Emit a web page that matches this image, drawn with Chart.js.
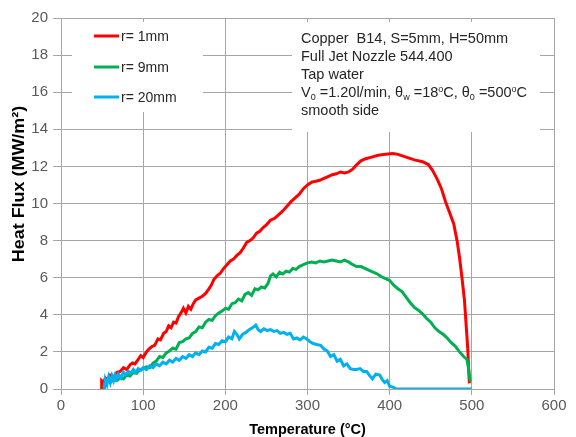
<!DOCTYPE html>
<html>
<head>
<meta charset="utf-8">
<script src="https://cdn.jsdelivr.net/npm/chart.js@4.4.1/dist/chart.umd.min.js"></script>
<style>
  html, body { margin: 0; padding: 0; background: #fff; }
</style>
</head>
<body>
<canvas id="heat-flux-chart" width="576" height="437"></canvas>
<script>
// r = 1mm
const redTemp = [49, 49.5, 52, 54, 57, 60, 64, 68, 72, 76, 80, 84, 87, 90, 94, 97, 100, 104, 107, 111, 114, 118, 121, 125, 128, 131, 134, 137, 140, 143, 146, 149, 152, 155, 158, 161, 164, 168, 172, 176, 180, 183, 186, 190, 194, 198, 202, 206, 210, 214, 218, 222, 226, 230, 234, 238, 242, 246, 250, 255, 260, 265, 270, 275, 280, 285, 290, 295, 300, 305, 310, 315, 320, 325, 330, 335, 340, 345, 350, 355, 360, 365, 370, 378, 386, 395, 404, 410, 420, 430, 440, 447, 452, 458, 463, 468, 473, 478, 482, 485, 488, 491, 493, 495, 496, 497];
const redFlux = [0.0, 0.45, 0.35, 0.6, 0.5, 0.75, 0.65, 0.9, 0.95, 1.15, 1.05, 1.3, 1.4, 1.35, 1.6, 1.8, 1.7, 2.0, 2.15, 2.3, 2.35, 2.7, 2.65, 3.0, 3.1, 3.4, 3.3, 3.6, 3.55, 3.9, 4.1, 4.35, 4.1, 4.45, 4.3, 4.6, 4.8, 4.9, 5.0, 5.15, 5.4, 5.6, 5.9, 6.1, 6.25, 6.5, 6.7, 6.9, 7.0, 7.2, 7.35, 7.6, 7.9, 8.0, 8.15, 8.4, 8.5, 8.7, 8.85, 9.1, 9.2, 9.4, 9.6, 9.85, 10.1, 10.3, 10.5, 10.8, 11.0, 11.15, 11.2, 11.25, 11.35, 11.45, 11.55, 11.6, 11.7, 11.65, 11.7, 11.85, 12.1, 12.3, 12.4, 12.5, 12.6, 12.65, 12.7, 12.65, 12.5, 12.35, 12.25, 12.1, 11.8, 11.3, 10.8, 10.1, 9.5, 8.9, 8.0, 7.1, 6.0, 4.8, 3.5, 2.2, 1.2, 0.3];

// r = 9mm
const greenTemp = [52, 53, 56, 60, 64, 68, 72, 76, 80, 84, 88, 92, 96, 100, 104, 108, 112, 116, 120, 124, 128, 132, 136, 140, 144, 148, 152, 156, 160, 164, 168, 172, 176, 180, 184, 188, 192, 196, 200, 204, 208, 212, 216, 220, 224, 228, 232, 236, 240, 244, 248, 252, 255, 258, 262, 266, 270, 274, 278, 282, 286, 290, 295, 300, 305, 310, 315, 320, 325, 330, 335, 340, 345, 350, 355, 360, 365, 370, 375, 380, 385, 390, 395, 400, 405, 410, 415, 420, 425, 430, 435, 440, 445, 450, 455, 460, 465, 470, 475, 480, 485, 490, 494, 496, 498];
const greenFlux = [0.0, 0.3, 0.45, 0.35, 0.5, 0.45, 0.6, 0.55, 0.75, 0.7, 0.9, 0.85, 1.05, 1.1, 1.2, 1.15, 1.4, 1.5, 1.75, 1.7, 1.95, 2.05, 2.2, 2.15, 2.5, 2.55, 2.7, 2.75, 3.0, 3.1, 3.35, 3.3, 3.6, 3.75, 3.7, 3.95, 4.1, 4.2, 4.35, 4.3, 4.6, 4.65, 4.85, 4.75, 5.1, 5.2, 5.05, 5.4, 5.35, 5.5, 5.45, 5.7, 6.1, 6.2, 6.05, 6.3, 6.2, 6.35, 6.3, 6.5, 6.45, 6.6, 6.7, 6.8, 6.85, 6.8, 6.9, 6.85, 6.9, 6.95, 6.9, 6.85, 6.95, 6.85, 6.7, 6.6, 6.6, 6.5, 6.4, 6.3, 6.2, 6.05, 5.95, 5.85, 5.6, 5.4, 5.25, 4.95, 4.65, 4.4, 4.25, 4.05, 3.8, 3.6, 3.3, 3.1, 2.95, 2.75, 2.5, 2.3, 2.0, 1.75, 1.6, 1.1, 0.4];

// r = 20mm
const blueTemp = [53, 54, 56, 58, 60, 62, 64, 66, 68, 70, 73, 76, 79, 82, 85, 88, 91, 94, 97, 100, 104, 108, 112, 116, 120, 124, 128, 132, 136, 140, 144, 148, 152, 156, 160, 164, 168, 172, 176, 180, 184, 188, 192, 196, 200, 204, 208, 211, 214, 217, 221, 225, 229, 233, 237, 240, 243, 247, 251, 255, 259, 263, 267, 271, 275, 279, 283, 287, 291, 295, 299, 303, 307, 311, 316, 320, 324, 328, 332, 336, 340, 344, 348, 352, 356, 360, 364, 368, 372, 376, 379, 383, 388, 391, 394, 397, 400, 404, 408, 500];
const blueFlux = [0.0, 0.5, 0.25, 0.65, 0.35, 0.7, 0.45, 0.75, 0.55, 0.8, 0.6, 0.9, 0.75, 0.95, 0.85, 1.05, 0.9, 1.1, 1.0, 1.15, 1.05, 1.25, 1.15, 1.35, 1.25, 1.45, 1.35, 1.55, 1.45, 1.65, 1.55, 1.75, 1.65, 1.85, 1.75, 1.95, 1.85, 2.05, 2.0, 2.25, 2.2, 2.45, 2.4, 2.6, 2.55, 2.8, 2.7, 3.1, 2.95, 2.7, 2.95, 3.05, 3.2, 3.3, 3.45, 3.2, 3.1, 3.25, 3.15, 3.2, 3.1, 3.15, 3.0, 3.05, 2.95, 3.0, 2.7, 2.75, 2.65, 2.8, 2.7, 2.55, 2.45, 2.4, 2.35, 2.15, 2.05, 1.75, 1.85, 1.5, 1.6, 1.25, 1.35, 1.1, 1.05, 1.05, 1.1, 0.95, 0.95, 0.7, 0.55, 0.8, 0.75, 0.5, 0.35, 0.45, 0.15, 0.1, 0.0, 0.0];

const seriesLabels = ['r= 1mm', 'r= 9mm', 'r= 20mm'];
const seriesColors = ['#ff0000', '#00b050', '#00b0f0'];

const noteLines = [
  [{ t: 'Copper  B14, S=5mm, H=50mm' }],
  [{ t: 'Full Jet Nozzle 544.400' }],
  [{ t: 'Tap water' }],
  [{ t: 'V' }, { t: '0', sub: true }, { t: ' =1.20l/min, \u03B8' }, { t: 'w', sub: true },
   { t: ' =18' }, { t: 'o', sup: true }, { t: 'C, \u03B8' }, { t: '0', sub: true },
   { t: ' =500' }, { t: 'o', sup: true }, { t: 'C' }],
  [{ t: 'smooth side' }]
];

const FONT = '"Liberation Sans", Arial, sans-serif';

function toPoints(xs, ys) {
  return xs.map((x, i) => ({ x: x, y: ys[i] }));
}

function drawRich(ctx, x, y, parts) {
  parts.forEach(p => {
    const small = p.sub || p.sup;
    ctx.font = (small ? '9px ' : '14.5px ') + FONT;
    const dy = p.sub ? 3 : (p.sup ? -5 : 0);
    ctx.fillText(p.t, x, y + dy);
    x += ctx.measureText(p.t).width;
  });
}

// white boxes with legend and notes, plus the y title
const overlayPlugin = {
  id: 'overlay',
  beforeDatasetsDraw(chart) {
    const ctx = chart.ctx;
    ctx.save();
    ctx.fillStyle = '#ffffff';
    ctx.fillRect(72, 22, 131, 90);
    ctx.fillRect(292, 22, 248, 110);

    ctx.textBaseline = 'alphabetic';
    ctx.textAlign = 'left';
    const legendY = [36, 67, 97];
    seriesLabels.forEach((label, i) => {
      ctx.strokeStyle = seriesColors[i];
      ctx.lineWidth = 3;
      ctx.beginPath();
      ctx.moveTo(94, legendY[i]);
      ctx.lineTo(119, legendY[i]);
      ctx.stroke();
      ctx.fillStyle = '#262626';
      ctx.font = '14px ' + FONT;
      ctx.fillText(label, 121, legendY[i] + 5);
    });

    ctx.fillStyle = '#262626';
    const noteBase = [42.5, 60.5, 78.5, 96.5, 114.5];
    noteLines.forEach((parts, i) => drawRich(ctx, 301, noteBase[i], parts));

    // y axis title
    ctx.translate(20, 184);
    ctx.rotate(-Math.PI / 2);
    ctx.scale(1.12, 1);
    ctx.textAlign = 'center';
    ctx.textBaseline = 'middle';
    ctx.fillStyle = '#000000';
    ctx.font = 'bold 16px ' + FONT;
    ctx.fillText('Heat Flux (MW/m\u00B2)', 0, 0);
    ctx.restore();
  }
};

const ctx = document.getElementById('heat-flux-chart');

new Chart(ctx, {
  type: 'scatter',
  data: {
    datasets: [
      { label: seriesLabels[0], data: toPoints(redTemp, redFlux), borderColor: seriesColors[0], order: 2 },
      { label: seriesLabels[1], data: toPoints(greenTemp, greenFlux), borderColor: seriesColors[1], order: 1 },
      { label: seriesLabels[2], data: toPoints(blueTemp, blueFlux), borderColor: seriesColors[2], order: 0 }
    ].map(d => Object.assign(d, {
      showLine: true,
      borderWidth: 3,
      pointRadius: 0,
      tension: 0,
      fill: false
    }))
  },
  options: {
    responsive: false,
    animation: false,
    devicePixelRatio: 1,
    layout: { padding: { top: 18, right: 22, left: 0, bottom: 0 } },
    plugins: {
      legend: { display: false },
      tooltip: { enabled: false }
    },
    scales: {
      x: {
        type: 'linear',
        min: 0,
        max: 600,
        ticks: { stepSize: 100, color: '#595959', padding: 2, font: { family: FONT, size: 15 } },
        grid: { color: '#a6a6a6', lineWidth: 1, tickLength: 6 },
        border: { color: '#a6a6a6' },
        title: {
          display: true,
          text: 'Temperature (\u00B0C)',
          color: '#000000',
          padding: { top: 0, bottom: 0 },
          font: { family: FONT, size: 14.5, weight: 'bold', lineHeight: 1 }
        },
        afterFit(scale) { scale.height = 48; }
      },
      y: {
        type: 'linear',
        min: 0,
        max: 20,
        ticks: { stepSize: 2, color: '#595959', padding: 5, font: { family: FONT, size: 15 } },
        grid: { color: '#a6a6a6', lineWidth: 1, tickLength: 8 },
        border: { color: '#a6a6a6' },
        afterFit(scale) { scale.width = 61; }
      }
    }
  },
  plugins: [overlayPlugin]
});
</script>
</body>
</html>
